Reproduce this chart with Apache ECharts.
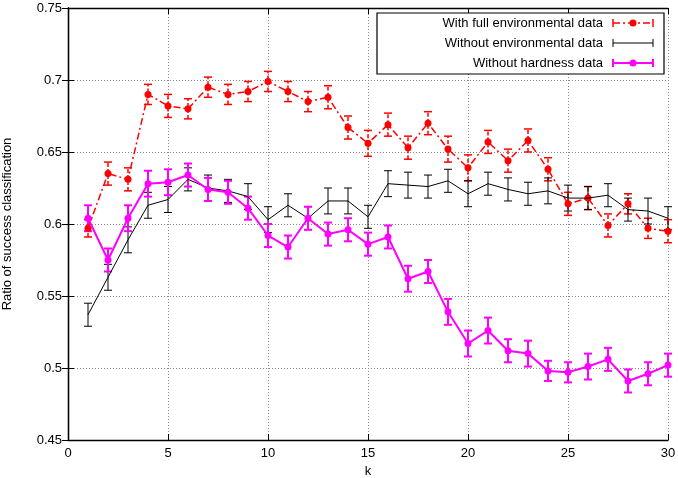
<!DOCTYPE html>
<html>
<head>
<meta charset="utf-8">
<script src="https://cdn.jsdelivr.net/npm/echarts@6/dist/echarts.min.js"></script>
<style>html,body{margin:0;padding:0;background:#fff}#c{width:678px;height:478px}</style>
</head>
<body>
<div id="c"></div>
<script>
const kValues = [1,2,3,4,5,6,7,8,9,10,11,12,13,14,15,16,17,18,19,20,21,22,23,24,25,26,27,28,29,30];
const xTicks = [0,5,10,15,20,25,30];
const yTicks = [0.45,0.5,0.55,0.6,0.65,0.7,0.75];
const seriesNames = ['With full environmental data','Without environmental data','Without hardness data'];

const fullEnv = [0.597,0.635,0.631,0.690,0.682,0.680,0.695,0.690,0.692,0.699,0.692,0.685,0.688,0.667,0.656,0.669,0.653,0.670,0.652,0.639,0.657,0.644,0.658,0.638,0.614,0.618,0.599,0.614,0.597,0.595];
const fullEnvErr = [0.006,0.008,0.008,0.007,0.008,0.007,0.007,0.007,0.007,0.007,0.007,0.007,0.008,0.008,0.009,0.008,0.008,0.008,0.009,0.009,0.008,0.008,0.008,0.008,0.008,0.008,0.008,0.007,0.007,0.008];
const noEnv = [0.537,0.563,0.589,0.613,0.617,0.631,0.625,0.623,0.619,0.603,0.613,0.604,0.616,0.616,0.605,0.628,0.627,0.626,0.630,0.621,0.628,0.624,0.621,0.623,0.618,0.618,0.620,0.610,0.609,0.604];
const noEnvErr = [0.008,0.009,0.009,0.009,0.009,0.008,0.009,0.008,0.009,0.009,0.008,0.008,0.009,0.009,0.008,0.009,0.009,0.008,0.008,0.009,0.008,0.008,0.008,0.009,0.009,0.008,0.008,0.008,0.009,0.008];
const noHard = [0.604,0.575,0.604,0.628,0.629,0.634,0.624,0.622,0.611,0.592,0.584,0.604,0.593,0.596,0.586,0.591,0.562,0.567,0.539,0.517,0.526,0.512,0.510,0.498,0.497,0.501,0.506,0.491,0.496,0.502];
const noHardErr = [0.009,0.008,0.009,0.009,0.009,0.008,0.008,0.008,0.008,0.008,0.008,0.008,0.008,0.008,0.008,0.008,0.009,0.008,0.009,0.009,0.009,0.008,0.009,0.007,0.007,0.009,0.008,0.008,0.008,0.008];

const FONT = 'Liberation Sans, Arial, sans-serif';
const FS = 13;
const RED = '#ff0000', BLACK = '#000000', MAG = '#ff00ff';
const RED_DASH = [7,3,2,3];

function pts(vals){ return kValues.map((k,i)=>[k, vals[i]]); }
function errPts(vals, errs){ return kValues.map((k,i)=>[k, vals[i]-errs[i], vals[i]+errs[i]]); }

function errSeries(vals, errs, color, width, dash){
  return {
    type: 'custom',
    silent: true,
    clip: false,
    data: errPts(vals, errs),
    renderItem: function(params, api){
      const x = api.value(0);
      const lo = api.coord([x, api.value(1)]);
      const hi = api.coord([x, api.value(2)]);
      const cap = 4;
      const style = {stroke: color, lineWidth: width, fill: null, lineDash: dash || null};
      return {
        type: 'group',
        children: [
          {type:'line', shape:{x1:lo[0], y1:lo[1], x2:hi[0], y2:hi[1]}, style: style},
          {type:'line', shape:{x1:lo[0]-cap, y1:lo[1], x2:lo[0]+cap, y2:lo[1]}, style: {stroke: color, lineWidth: width}},
          {type:'line', shape:{x1:hi[0]-cap, y1:hi[1], x2:hi[0]+cap, y2:hi[1]}, style: {stroke: color, lineWidth: width}}
        ]
      };
    },
    z: 3
  };
}

function fmtY(v){ return String(parseFloat(v.toFixed(2))); }

const axisCommon = {
  type: 'value',
  axisLine: {show: true, lineStyle: {color: '#000', width: 1.3}},
  axisTick: {show: true, inside: true, length: 6, lineStyle: {color: '#000'}},
};

const legX0 = 377, legY0 = 13, legX1 = 664, legY1 = 74;
const rowY = [23, 43, 63];
const sx0 = 613, sx1 = 653, scx = 633;
function legendSample(i){
  const y = rowY[i];
  const col = [RED, BLACK, MAG][i];
  const lw = [1.5, 1, 2][i];
  const items = [
    {type:'line', shape:{x1:sx0, y1:y, x2:sx1, y2:y}, style:{stroke:col, lineWidth:lw, lineDash: i===0 ? RED_DASH : null}},
    {type:'line', shape:{x1:sx0, y1:y-4, x2:sx0, y2:y+4}, style:{stroke:col, lineWidth:lw}},
    {type:'line', shape:{x1:sx1, y1:y-4, x2:sx1, y2:y+4}, style:{stroke:col, lineWidth:lw}}
  ];
  if (i !== 1) items.push({type:'circle', shape:{cx:scx, cy:y, r:3.5}, style:{fill:col}});
  return items;
}
const legendGraphics = [
  {type:'rect', shape:{x:legX0, y:legY0, width:legX1-legX0, height:legY1-legY0}, style:{fill:'#fff', stroke:'#000', lineWidth:1.2}, z:100}
];
seriesNames.forEach((n,i)=>{
  legendGraphics.push({type:'text', x:603, y:rowY[i], style:{text:n, fill:'#000', font:FS + 'px ' + FONT, textAlign:'right', textVerticalAlign:'middle'}, z:101});
  legendSample(i).forEach(g=>{ g.z = 101; legendGraphics.push(g); });
});

const option = {
  animation: false,
  backgroundColor: '#fff',
  textStyle: {fontFamily: FONT},
  grid: {left: 68, right: 10, top: 8, bottom: 38, containLabel: false, outerBoundsMode: 'none'},
  xAxis: [
    Object.assign({}, axisCommon, {
      min: xTicks[0], max: xTicks[xTicks.length-1], interval: 5, position: 'bottom',
      name: 'k', nameLocation: 'middle', nameGap: 20,
      nameTextStyle: {color:'#000', fontSize: FS, fontFamily: FONT},
      axisLabel: {color:'#000', fontSize: FS, margin: 7, fontFamily: FONT},
      splitLine: {show: true, lineStyle: {color: '#888', type: [1,2], width: 1}}
    }),
    Object.assign({}, axisCommon, {
      min: xTicks[0], max: xTicks[xTicks.length-1], interval: 5, position: 'top',
      axisLabel: {show: false}, splitLine: {show: false}
    })
  ],
  yAxis: [
    Object.assign({}, axisCommon, {
      min: yTicks[0], max: yTicks[yTicks.length-1], interval: 0.05, position: 'left',
      name: 'Ratio of success classification', nameLocation: 'middle', nameGap: 54,
      nameTextStyle: {color:'#000', fontSize: FS, fontFamily: FONT},
      axisLabel: {color:'#000', fontSize: FS, margin: 6, formatter: fmtY, fontFamily: FONT},
      splitLine: {show: true, lineStyle: {color: '#888', type: [1,2], width: 1}}
    }),
    Object.assign({}, axisCommon, {
      min: yTicks[0], max: yTicks[yTicks.length-1], interval: 0.05, position: 'right',
      axisLabel: {show: false}, splitLine: {show: false}
    })
  ],
  graphic: legendGraphics,
  series: [
    errSeries(fullEnv, fullEnvErr, RED, 1.5, [4,2]),
    {
      name: seriesNames[0], type: 'line', data: pts(fullEnv),
      symbol: 'circle', symbolSize: 7, itemStyle: {color: RED},
      lineStyle: {color: RED, width: 1.5, type: RED_DASH}, z: 4
    },
    errSeries(noEnv, noEnvErr, BLACK, 1),
    {
      name: seriesNames[1], type: 'line', data: pts(noEnv),
      symbol: 'none', lineStyle: {color: BLACK, width: 1}, z: 5
    },
    errSeries(noHard, noHardErr, MAG, 2),
    {
      name: seriesNames[2], type: 'line', data: pts(noHard),
      symbol: 'circle', symbolSize: 7, itemStyle: {color: MAG},
      lineStyle: {color: MAG, width: 2}, z: 6
    }
  ]
};

const chart = echarts.init(document.getElementById('c'), null, {renderer: 'canvas'});
chart.setOption(option);
</script>
</body>
</html>
